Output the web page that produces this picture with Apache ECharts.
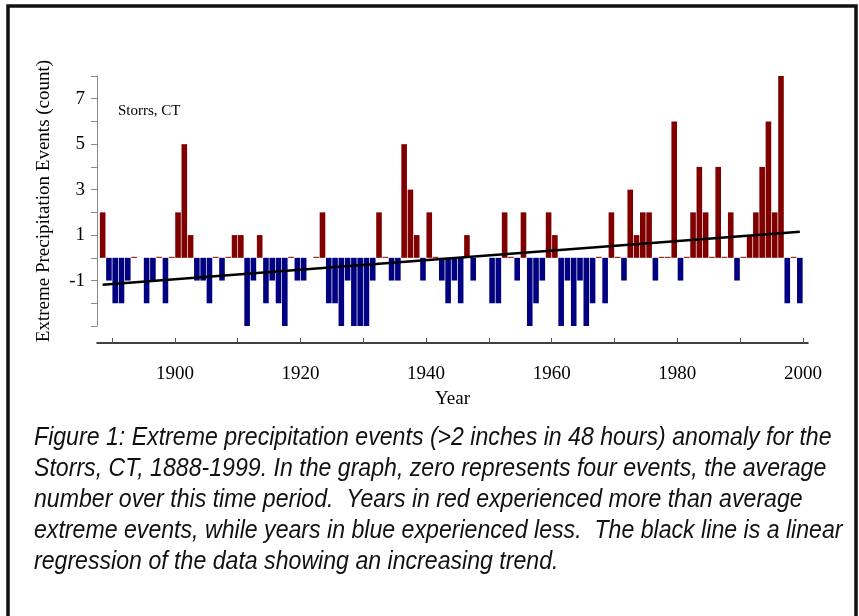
<!DOCTYPE html>
<html><head><meta charset="utf-8">
<script src="https://cdn.jsdelivr.net/npm/echarts@6/dist/echarts.min.js"></script>
<style>html,body{margin:0;padding:0;background:#fff}#c{width:859px;height:616px}</style>
</head><body><div id="c"></div>
<script>
const startYear = 1888;
const anomalies = [
 2,-1,-2,-2,-1,0,null,-2,-1,0,-2,0,2,5,1,-1,-1,-2,0,-1,0,1,1,-3,-1,1,-2,-1,-2,-3,0,-1,-1,null,0,2,-2,
 -2,-3,-1,-3,-3,-3,-1,2,0,-1,-1,5,3,1,-1,2,0,-1,-2,-1,-2,1,-1,null,null,-2,-2,2,0,-1,2,-3,-2,-1,2,1,-3,-1,
 -3,-1,-3,-2,0,-2,2,0,-1,3,1,2,2,-1,0,0,6,-1,0,2,4,2,0,4,0,2,-1,0,1,2,4,6,2,8,-2,0,-2
];
const trendYears = [1888, 1999];
const trendValues = [-1.18, 1.15];
const xTicks = [1890,1900,1910,1920,1930,1940,1950,1960,1970,1980,1990,2000];
const xLabels = [1900,1920,1940,1960,1980,2000];
const yLabels = [7,5,3,1,-1];
const caption = [
 "Figure 1: Extreme precipitation events (>2 inches in 48 hours) anomaly for the",
 "Storrs, CT, 1888-1999. In the graph, zero represents four events, the average",
 "number over this time period.  Years in red experienced more than average",
 "extreme events, while years in blue experienced less.  The black line is a linear",
 "regression of the data showing an increasing trend."
];
const barData = anomalies.map((v,i)=>[startYear+i+0.5, v]);
const chart = echarts.init(document.getElementById('c'));
const serif = '"Liberation Serif", "DejaVu Serif", serif';
chart.setOption({
 animation:false,
 grid:{left:97,right:51,top:76,bottom:290},
 xAxis:{type:'value',min:1887.6,max:2000.8,offset:17,
  axisLine:{onZero:false,lineStyle:{color:'#000',width:1.5}},
  axisTick:{inside:true,length:5,customValues:xTicks,lineStyle:{color:'#555'}},
  axisLabel:{customValues:xLabels,color:'#000',fontFamily:serif,fontSize:19,margin:22,formatter:v=>String(v)},
  splitLine:{show:false},
  name:'Year',nameLocation:'middle',nameGap:47,nameTextStyle:{color:'#000',fontFamily:serif,fontSize:19}},
 yAxis:{type:'value',min:-3,max:8,interval:1,
  axisLine:{show:true,lineStyle:{color:'#888'}},
  axisTick:{length:6,lineStyle:{color:'#888'}},
  axisLabel:{color:'#000',fontFamily:serif,fontSize:19,margin:12,
   formatter:v=>yLabels.includes(v)?String(v):''},
  splitLine:{show:false},
  name:'Extreme Precipitation Events (count)',nameLocation:'middle',nameGap:43,
  nameTextStyle:{color:'#000',fontFamily:serif,fontSize:19}},
 series:[
  {type:'bar',data:barData,barWidth:5.6,barMinHeight:1,
   itemStyle:{color:p=>p.value[1]>=0?'#800000':'#000080'}},
  {type:'line',data:trendYears.map((y,i)=>[y+0.5,trendValues[i]]),symbol:'none',
   lineStyle:{color:'#000',width:2.5},z:5}
 ],
 graphic:[
  {type:'rect',shape:{x:8,y:6,width:848,height:640},style:{fill:'none',stroke:'#111',lineWidth:3.5}},
  {type:'text',left:118,top:104,style:{text:'Storrs, CT',font:'15px '+serif,fill:'#000'}},
  ...caption.map((t,i)=>({type:'text',x:34,y:426+i*31,scaleX:0.925,
    style:{text:t,font:'italic 25px "Liberation Sans", "DejaVu Sans", sans-serif',fill:'#111'}}))
 ]
});
</script></body></html>
